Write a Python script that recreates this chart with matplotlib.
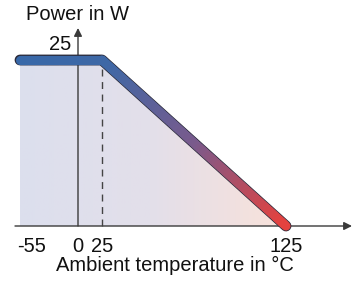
import numpy as np
import matplotlib
matplotlib.use('Agg')
from matplotlib import pyplot as plt
from matplotlib.collections import LineCollection
from matplotlib.colors import LinearSegmentedColormap
from matplotlib.patches import Polygon

# derating curve
temps = [-55, 25, 125]
power = [25, 25, 0]
tick_temps = [-55, 0, 25, 125]
tick_labels = ['-55', '0', '25', '125']
power_label = '25'

plt.rcParams['font.family'] = ['Liberation Sans', 'DejaVu Sans']
FS = 14.5

# the x axis is schematic (not to scale): piecewise linear, knots -> pixels
kt = np.array([-55.0, 0.0, 25.0, 125.0])
kp = np.array([20.0, 78.0, 102.0, 286.0])
s0 = (kp[1] - kp[0]) / (kt[1] - kt[0])
s1 = (kp[-1] - kp[-2]) / (kt[-1] - kt[-2])

def fwd(x):
    x = np.asarray(x, float)
    y = np.interp(x, kt, kp)
    y = np.where(x < kt[0], kp[0] + (x - kt[0]) * s0, y)
    y = np.where(x > kt[-1], kp[-1] + (x - kt[-1]) * s1, y)
    return y

def inv(p):
    p = np.asarray(p, float)
    x = np.interp(p, kp, kt)
    x = np.where(p < kp[0], kt[0] + (p - kp[0]) / s0, x)
    x = np.where(p > kp[-1], kt[-1] + (p - kp[-1]) / s1, x)
    return x

W, H = 356, 281
fig = plt.figure(figsize=(W / 100, H / 100), dpi=100)
ax = fig.add_axes([0, 0, 1, 1])
ax.set_autoscale_on(False)
ax.set_xscale('function', functions=(fwd, inv))
ax.set_xlim(float(inv(0)), float(inv(W)))
ppw = (226 - 60) / 25.0  # pixels per watt
ax.set_ylim(-(H - 226) / ppw, 25 + 60 / ppw)
ax.axis('off')

# gradient fill under the curve
verts = list(zip(temps, power)) + [(temps[-1], 0), (temps[0], 0)]
patch = Polygon(verts, closed=True, facecolor='none', edgecolor='none',
                transform=ax.transData)
ax.add_patch(patch)
fill_cmap = LinearSegmentedColormap.from_list('fill', ['#dcdfee', '#e3dfea', '#f9e2da'])
x0 = ax.transAxes.inverted().transform(ax.transData.transform((temps[0], 0)))[0]
x1 = ax.transAxes.inverted().transform(ax.transData.transform((temps[-1], 0)))[0]
grad = np.linspace(0, 1, 256).reshape(1, -1)
im = ax.imshow(grad, extent=[x0 - 5 / W, x1, 0, 1], transform=ax.transAxes,
               aspect='auto', cmap=fill_cmap, zorder=1)
im.set_clip_path(patch)

# axes with arrows
arrow = dict(arrowstyle='-|>', color='#3a3a3a', lw=1, mutation_scale=12,
             shrinkA=0, shrinkB=0)
ax.annotate('', xy=(352 / W, 0), xytext=(15 / W, 0),
            xycoords=ax.get_yaxis_transform(), textcoords=ax.get_yaxis_transform(),
            arrowprops=arrow, zorder=3)
ax.annotate('', xy=(0, 1 - 28 / H), xytext=(0, 0),
            xycoords=ax.get_xaxis_transform(), textcoords='data',
            arrowprops=arrow, zorder=3)

# dashed line at the derating knee
ax.plot([temps[1], temps[1]], [0, power[1]], color='#444444', lw=1,
        dashes=(5, 4), zorder=3)

# curve: dark outline, then gradient body
ax.plot(temps, power, color='#2b2b3b', lw=7.8, solid_capstyle='round',
        solid_joinstyle='round', zorder=4)
xs, ys = [], []
for i in range(len(temps) - 1):
    xs.append(np.linspace(temps[i], temps[i + 1], 80))
    ys.append(np.linspace(power[i], power[i + 1], 80))
xs = np.concatenate(xs)
ys = np.concatenate(ys)
pts = np.column_stack([xs, ys]).reshape(-1, 1, 2)
segs = np.concatenate([pts[:-1], pts[1:]], axis=1)
xm = (xs[:-1] + xs[1:]) / 2
t = (fwd(xm) - fwd(temps[0])) / (fwd(temps[-1]) - fwd(temps[0]))
line_cmap = LinearSegmentedColormap.from_list(
    'line', ['#3868a8', '#3e68a6', '#7a5a8c', '#e5423e'], N=256)
lc = LineCollection(segs, colors=line_cmap(t), linewidths=6.6,
                    capstyle='round', joinstyle='round', zorder=5)
ax.add_collection(lc)

# labels
label_shift = {'-55': 12}
for v, lab in zip(tick_temps, tick_labels):
    ax.annotate(lab, xy=(v, 34 / H), xycoords=ax.get_xaxis_transform(),
                xytext=(label_shift.get(lab, 0) * 0.72, 0), textcoords='offset points',
                ha='center', va='center', fontsize=FS, color='#111111')
ax.annotate(power_label, xy=(0, power[0]), xytext=(-5, 11), textcoords='offset points',
            ha='right', va='center', fontsize=FS, color='#111111')
ax.text(0, 1 - 15 / H, 'Power in W', transform=ax.get_xaxis_transform(),
        ha='center', va='center', fontsize=FS, color='#111111')
ax.text(174.5 / W, 1 - 265 / H, 'Ambient temperature in °C', transform=ax.transAxes,
        ha='center', va='center', fontsize=FS, color='#111111')

fig.savefig('out.png', dpi=100)
